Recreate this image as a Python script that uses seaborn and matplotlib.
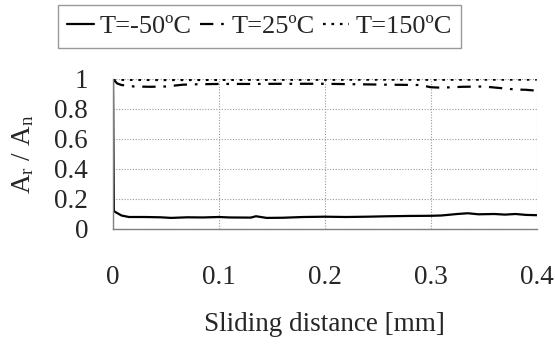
import numpy as np
import pandas as pd
import matplotlib
matplotlib.use("Agg")
import matplotlib.pyplot as plt
import seaborn as sns
from matplotlib.lines import Line2D

# ---- data ----
x_m50 = [0.0, 0.0008, 0.003, 0.008, 0.015, 0.03, 0.045, 0.055, 0.07, 0.085, 0.1, 0.11,
         0.13, 0.135, 0.145, 0.16, 0.18, 0.2, 0.22, 0.24, 0.26, 0.28, 0.3, 0.31,
         0.325, 0.335, 0.345, 0.36, 0.37, 0.38, 0.39, 0.4]
y_m50 = [1.0, 0.12, 0.11, 0.09, 0.08, 0.08, 0.078, 0.074, 0.078, 0.077, 0.08, 0.077,
         0.076, 0.085, 0.074, 0.075, 0.08, 0.082, 0.08, 0.082, 0.085, 0.087, 0.088, 0.09,
         0.1, 0.105, 0.098, 0.1, 0.096, 0.1, 0.094, 0.092]

x_25 = [0.0, 0.004, 0.008, 0.02, 0.035, 0.05, 0.066, 0.08, 0.1, 0.13, 0.16, 0.2,
        0.23, 0.26, 0.29, 0.3, 0.31, 0.33, 0.35, 0.365, 0.38, 0.39, 0.4]
y_25 = [1.0, 0.97, 0.96, 0.95, 0.948, 0.95, 0.962, 0.965, 0.967, 0.967, 0.968, 0.968,
        0.965, 0.962, 0.96, 0.945, 0.942, 0.948, 0.95, 0.94, 0.93, 0.928, 0.922]

x_150 = [0.0, 0.05, 0.1, 0.15, 0.2, 0.25, 0.3, 0.35, 0.4]
y_150 = [0.995, 0.993, 0.994, 0.995, 0.995, 0.996, 0.995, 0.996, 0.996]

labels = ["T=-50ºC", "T=25ºC", "T=150ºC"]
x_ticks = [0, 0.1, 0.2, 0.3, 0.4]
x_ticklabels = ["0", "0.1", "0.2", "0.3", "0.4"]
y_ticks = [0, 0.2, 0.4, 0.6, 0.8, 1.0]
y_ticklabels = ["0", "0.2", "0.4", "0.6", "0.8", "1"]

sns.set_style("white")
plt.rcParams["font.family"] = ["Liberation Serif", "DejaVu Serif"]
plt.rcParams["mathtext.fontset"] = "custom"
plt.rcParams["mathtext.rm"] = "Liberation Serif"
plt.rcParams["mathtext.it"] = "Liberation Serif"

fig = plt.figure(figsize=(5.55, 3.44), dpi=100)
ax = fig.add_axes([113/555, 1-229/344, (536.7-113)/555, 150/344])

styles = ["-", (0, (6, 3.5, 1.2, 3.5)), (0, (1.2, 2.6))]
series = [(x_m50, y_m50), (x_25, y_25), (x_150, y_150)]
for (xs, ys), ls, lab in zip(series, styles, labels):
    df = pd.DataFrame({"x": xs, "y": ys})
    sns.lineplot(data=df, x="x", y="y", ax=ax, color="black", linewidth=1.6,
                 linestyle=ls, label=lab, legend=False)

ax.set_xlim(0, 0.4)
ax.set_ylim(0, 1)
ax.set_xticks(x_ticks)
ax.set_xticklabels(x_ticklabels)
ax.set_yticks(y_ticks)
ax.set_yticklabels(y_ticklabels)

ax.grid(True, linestyle=(0, (1, 1.5)), color="#999999", linewidth=0.8)
for s in ["top", "right"]:
    ax.spines[s].set_visible(False)
for s in ["left", "bottom"]:
    ax.spines[s].set_color("#808080")
    ax.spines[s].set_linewidth(1.0)
ax.tick_params(axis="both", which="major", direction="out", length=7, width=1.0,
               color="#808080", labelsize=19.5)
ax.tick_params(axis="x", pad=19)
ax.tick_params(axis="y", pad=11)
ax.set_xlabel("Sliding distance [mm]", fontsize=19.5, labelpad=16)
ax.set_ylabel(r"$\mathregular{A_r\ /\ A_n}$", fontsize=19.5, labelpad=13)

handles = [Line2D([], [], color="black", linewidth=1.6, linestyle=ls) for ls in styles]
leg = fig.legend(handles, labels, loc="center", bbox_to_anchor=(259.5/555, 1-26.5/344),
                 ncol=3, fontsize=19, frameon=True, fancybox=False, handlelength=1.0,
                 handletextpad=0.22, columnspacing=0.3, borderpad=0.37)
leg.get_frame().set_edgecolor("#808080")
leg.get_frame().set_linewidth(1.0)

fig.savefig("out.png", dpi=100)
